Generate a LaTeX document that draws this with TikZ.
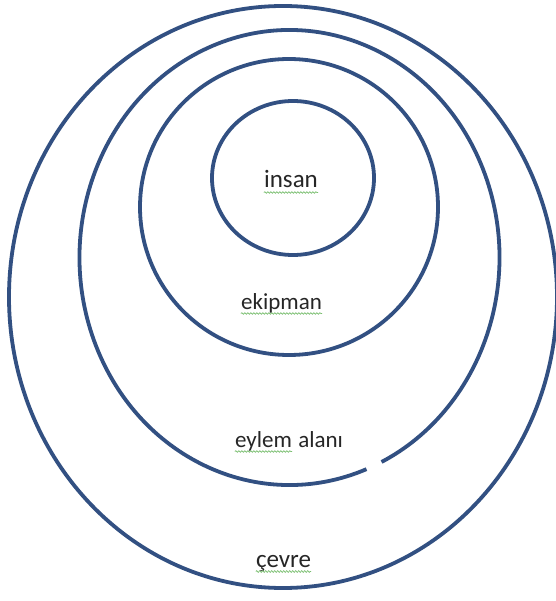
\documentclass[tikz,border=0pt]{standalone}
\usepackage{fontspec}
\setmainfont{Carlito}
\usetikzlibrary{decorations.pathmorphing}

\definecolor{ringblue}{RGB}{50,80,130}
\definecolor{spellgreen}{RGB}{120,190,110}

\tikzset{
    ring/.style={draw=ringblue, line width=3.8pt},
    word/.style={anchor=base, inner sep=0pt, text=black!85, font=\fontsize{23}{23}\selectfont},
    bigword/.style={word, font=\fontsize{25}{25}\selectfont},
    squiggle/.style={spellgreen, line width=0.7pt, decorate,
        decoration={snake, amplitude=0.8pt, segment length=3pt}}
}

\begin{document}
\begin{tikzpicture}[x=1pt, y=-1pt]

    \useasboundingbox (0,0) rectangle (555,601);
    \fill [white] (0,0) rectangle (555,601);

    % rings, inside out
    \draw [ring]
        (293,178) ellipse [x radius=81, y radius=77];
    \draw [ring]
        (289,207) ellipse [x radius=149, y radius=148];
    \draw [ring]
        (289.5,257.5)
        ++(68.5:210 and 227.5)
        arc [start angle=68.5, end angle=424, x radius=210, y radius=227.5]
        ;
    \draw [ring]
        (283,297) ellipse [x radius=274, y radius=291];

    % labels
    \node [bigword] (insan) at (291,188) {insan};
    \node [word] (ekipman) at (281.5,309) {ekipman};
    \node [word] (eylem) at (263.5,447) {eylem};
    \node [word, anchor=base west] (alani) at ([xshift=6pt]eylem.base east) {alanı};
    \node [bigword] (cevre) at (283.5,567) {çevre};

    % spell check marks
    \foreach \w in {insan, ekipman, eylem, cevre}
        \draw [squiggle]
            ([yshift=-4.5pt]\w.base west) -- ([yshift=-4.5pt]\w.base east);

\end{tikzpicture}
\end{document}
